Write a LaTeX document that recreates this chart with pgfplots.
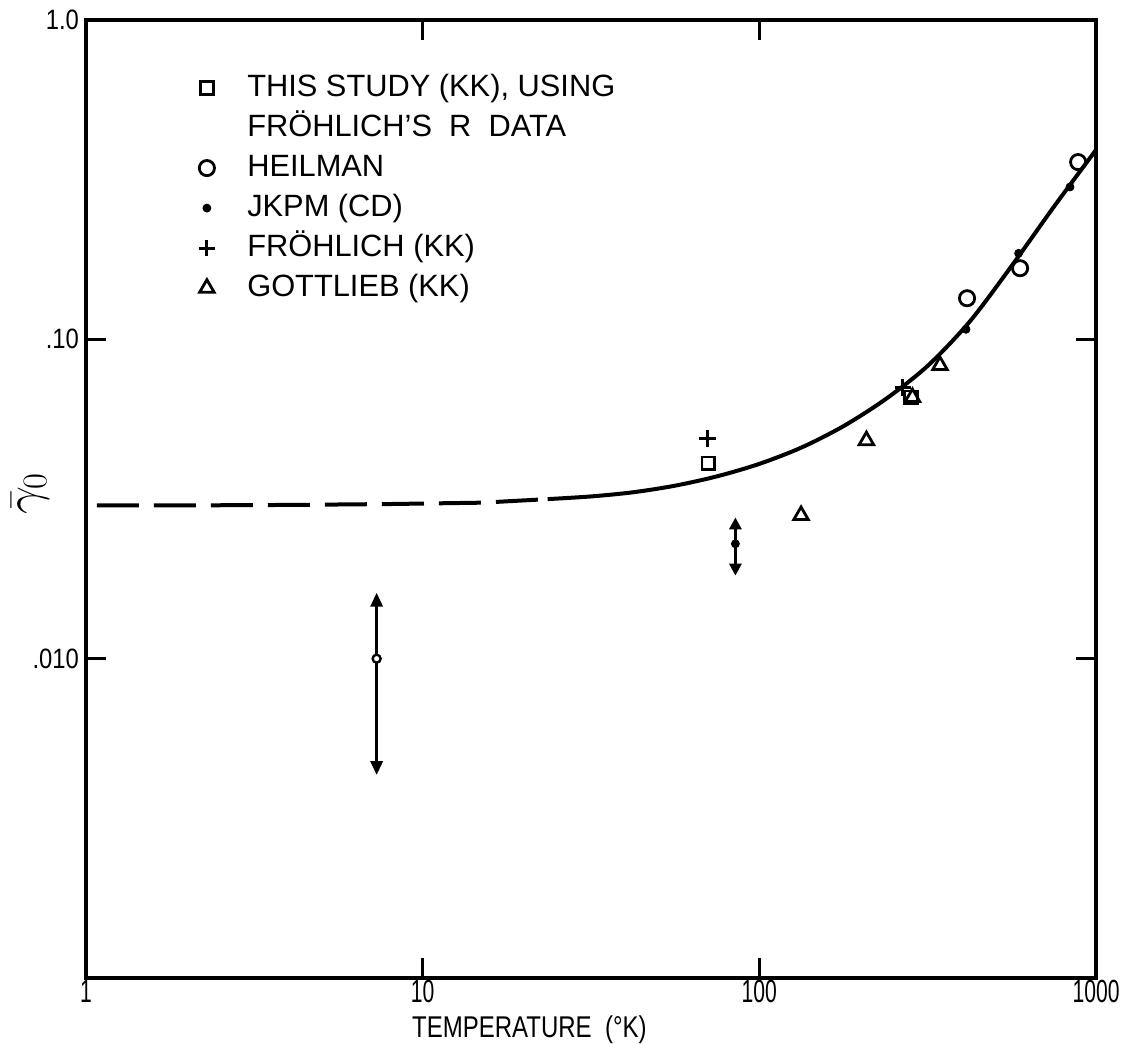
\documentclass[border=0pt]{standalone}
\usepackage{pgfplots}
\pgfplotsset{compat=1.18}
\usepackage{fontspec}
\setmainfont{Liberation Sans}
\newfontfamily\xtickfont[FakeStretch=0.66]{Liberation Sans}
\newfontfamily\ytickfont[FakeStretch=0.85]{Liberation Sans}
\newfontfamily\labfont[FakeStretch=0.8]{Liberation Sans}
\usetikzlibrary{arrows.meta}

\begin{document}
\begin{tikzpicture}
\begin{axis}[
  xmode=log, ymode=log,
  scale only axis, width=505pt, height=479pt,
  xmin=1, xmax=1000, ymin=0.001, ymax=1,
  xtick={1,10,100,1000}, xticklabels={1,10,100,1000},
  ytick={0.01,0.1,1}, yticklabels={.010,.10,1.0},
  xminorticks=false, yminorticks=false,
  tick align=inside, major tick length=10pt,
  every tick/.style={line width=1.5pt, black},
  axis line style={line width=1.8pt},
  xticklabel style={font=\xtickfont\fontsize{16}{16}\selectfont, inner sep=1pt},
  yticklabel style={font=\ytickfont\fontsize{14}{14}\selectfont},
  xlabel={\labfont\fontsize{15}{15}\selectfont TEMPERATURE \ (°K)},
  xlabel style={at={(axis description cs:0.439,0)}, anchor=base, yshift=-29.5pt, inner sep=0pt},
  ylabel={\fontsize{24}{24}\selectfont $\bar{\gamma}_0$},
  ylabel style={at={(axis description cs:-0.0555,0.506)}, anchor=center},
  legend style={at={(axis description cs:0.111,0.945)}, anchor=north west,
    draw=none, fill=none, inner sep=0pt, row sep=5pt, column sep=16pt,
    font=\fontsize{15.4}{18}\selectfont,
    nodes={inner sep=0pt, text height=11.5pt, text depth=3.5pt}},
  legend cell align=left,
  legend image code/.code={\draw[#1] plot coordinates {(0pt,0pt)};},
]
% curve: dashed extrapolation
\addplot[line width=2pt, dash pattern=on 21pt off 7.5pt, forget plot] coordinates {
(1.078,0.0302) (2,0.0302) (4,0.0303) (8,0.0305) (15,0.0308) (23.5,0.0316)};
% curve: solid
\addplot[line width=2pt, smooth, forget plot] coordinates {
(23.5,0.0316) (31.62,0.03222) (42.17,0.03320) (56.23,0.03482) (74.99,0.03726)
(100,0.04074) (133.4,0.04584) (177.8,0.05348) (237.1,0.06496) (316.2,0.0826)
(421.7,0.1137) (562.3,0.1701) (749.9,0.2602) (1000,0.3921)};
% error bars with arrows
\addplot[line width=1.6pt, {Triangle[length=7pt,width=6pt]}-{Triangle[length=7pt,width=6pt]}, forget plot] coordinates {(7.3,0.00432) (7.3,0.0161)};
\addplot[only marks, mark=*, mark size=2pt, mark options={fill=white, line width=1.2pt}, forget plot] coordinates {(7.3,0.010)};
\addplot[line width=1.6pt, {Triangle[length=6pt,width=6pt]}-{Triangle[length=6pt,width=6pt]}, forget plot] coordinates {(84.9,0.0182) (84.9,0.0277)};
\addplot[only marks, mark=*, mark size=2pt, forget plot] coordinates {(84.9,0.0229)};
% this study
\addplot[only marks, mark=square, mark size=3.2pt, line width=1.4pt] coordinates {(70.6,0.0409) (282,0.0658)};
\addlegendentry{THIS STUDY (KK), USING}
\addlegendimage{empty legend}
\addlegendentry{FRÖHLICH’S \ R \ DATA}
% Heilman
\addplot[only marks, mark=o, mark size=3.8pt, line width=1.4pt] coordinates {(414,0.1345) (595,0.167) (885,0.359)};
\addlegendentry{HEILMAN}
% JKPM
\addplot[only marks, mark=*, mark size=2pt] coordinates {(411,0.1075) (589,0.186) (837,0.30)};
\addlegendentry{JKPM (CD)}
% Frohlich
\addplot[only marks, mark=+, mark size=4.2pt, line width=1.5pt] coordinates {(70,0.049) (267,0.0707)};
\addlegendentry{FRÖHLICH (KK)}
% Gottlieb
\addplot[only marks, mark=triangle, mark size=4.2pt, line width=1.4pt] coordinates {(133,0.0281) (208,0.0482) (285,0.0658) (344,0.0829)};
\addlegendentry{GOTTLIEB (KK)}
\end{axis}
\pgfresetboundingbox
\path (-43pt,-32.5pt) rectangle (526pt,489pt);
\end{tikzpicture}
\end{document}
